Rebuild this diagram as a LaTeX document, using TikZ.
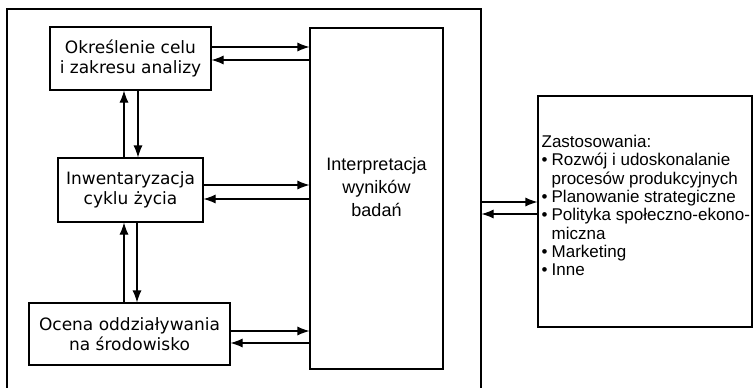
\documentclass[tikz,border=0pt]{standalone}
\usepackage{fontspec}
\setmainfont{Liberation Sans}
\newfontfamily\boxfont{DejaVu Sans}
\usetikzlibrary{arrows.meta,positioning}

\begin{document}
\begin{tikzpicture}[x=1pt,y=-1pt,
  box/.style={draw,line width=1.1pt,inner sep=0pt,align=center},
  step box/.style={box,font=\boxfont\fontsize{17}{20}\selectfont},
  flow/.style={-{Latex[length=12pt,width=9pt]},line width=1.1pt}]
\useasboundingbox (0,0) rectangle (755,388);
% outer frame and the big boxes
\node[box,minimum width=474pt,minimum height=392pt] (frame) at (244,205) {};
\node[box,minimum width=133pt,minimum height=341pt] (interp) at (376.5,198.5) {};
\node[align=center,font=\fontsize{18}{23}\selectfont] (interptext) at ([yshift=11pt]interp.center) {Interpretacja\\wyników\\badań};
\node[box,minimum width=214pt,minimum height=231pt] (zast) at (645,211.5) {};
\node[anchor=west,align=left,inner sep=0pt,font=\fontsize{17}{18.3}\selectfont] (zasttext) at ([xshift=4pt,yshift=6pt]zast.west)
  {Zastosowania:\\
   \makebox[10pt][l]{•}Rozwój i udoskonalanie\\
   \hspace*{10pt}procesów produkcyjnych\\
   \makebox[10pt][l]{•}Planowanie strategiczne\\
   \makebox[10pt][l]{•}Polityka społeczno-ekono-\\
   \hspace*{10pt}miczna\\
   \makebox[10pt][l]{•}Marketing\\
   \makebox[10pt][l]{•}Inne};
% the three steps
\node[step box,minimum width=161pt,minimum height=63pt] (cel) at (130.5,58.5) {Określenie celu\\i zakresu analizy};
\node[step box,minimum width=145pt,minimum height=64pt] (inw) at (130.5,190) {Inwentaryzacja\\cyklu życia};
\node[step box,minimum width=201pt,minimum height=62pt] (ocena) at (129.5,334) {Ocena oddziaływania\\na środowisko};
% arrows to and from the interpretation
\draw[flow] (cel.east |- 0,47) -- (interp.west |- 0,47);
\draw[flow] (interp.west |- 0,60) -- (cel.east |- 0,60);
\draw[flow] (inw.east |- 0,185) -- (interp.west |- 0,185);
\draw[flow] (interp.west |- 0,199) -- (inw.east |- 0,199);
\draw[flow] (ocena.east |- 0,331) -- (interp.west |- 0,331);
\draw[flow] (interp.west |- 0,343) -- (ocena.east |- 0,343);
% between the steps
\draw[flow] (inw.north -| 124,0) -- (cel.south -| 124,0);
\draw[flow] (cel.south -| 138,0) -- (inw.north -| 138,0);
\draw[flow] (ocena.north -| 124,0) -- (inw.south -| 124,0);
\draw[flow] (inw.south -| 137,0) -- (ocena.north -| 137,0);
% to the applications
\draw[flow] (frame.east |- 0,202) -- (zast.west |- 0,202);
\draw[flow] (zast.west |- 0,214) -- (frame.east |- 0,214);
\end{tikzpicture}
\end{document}
